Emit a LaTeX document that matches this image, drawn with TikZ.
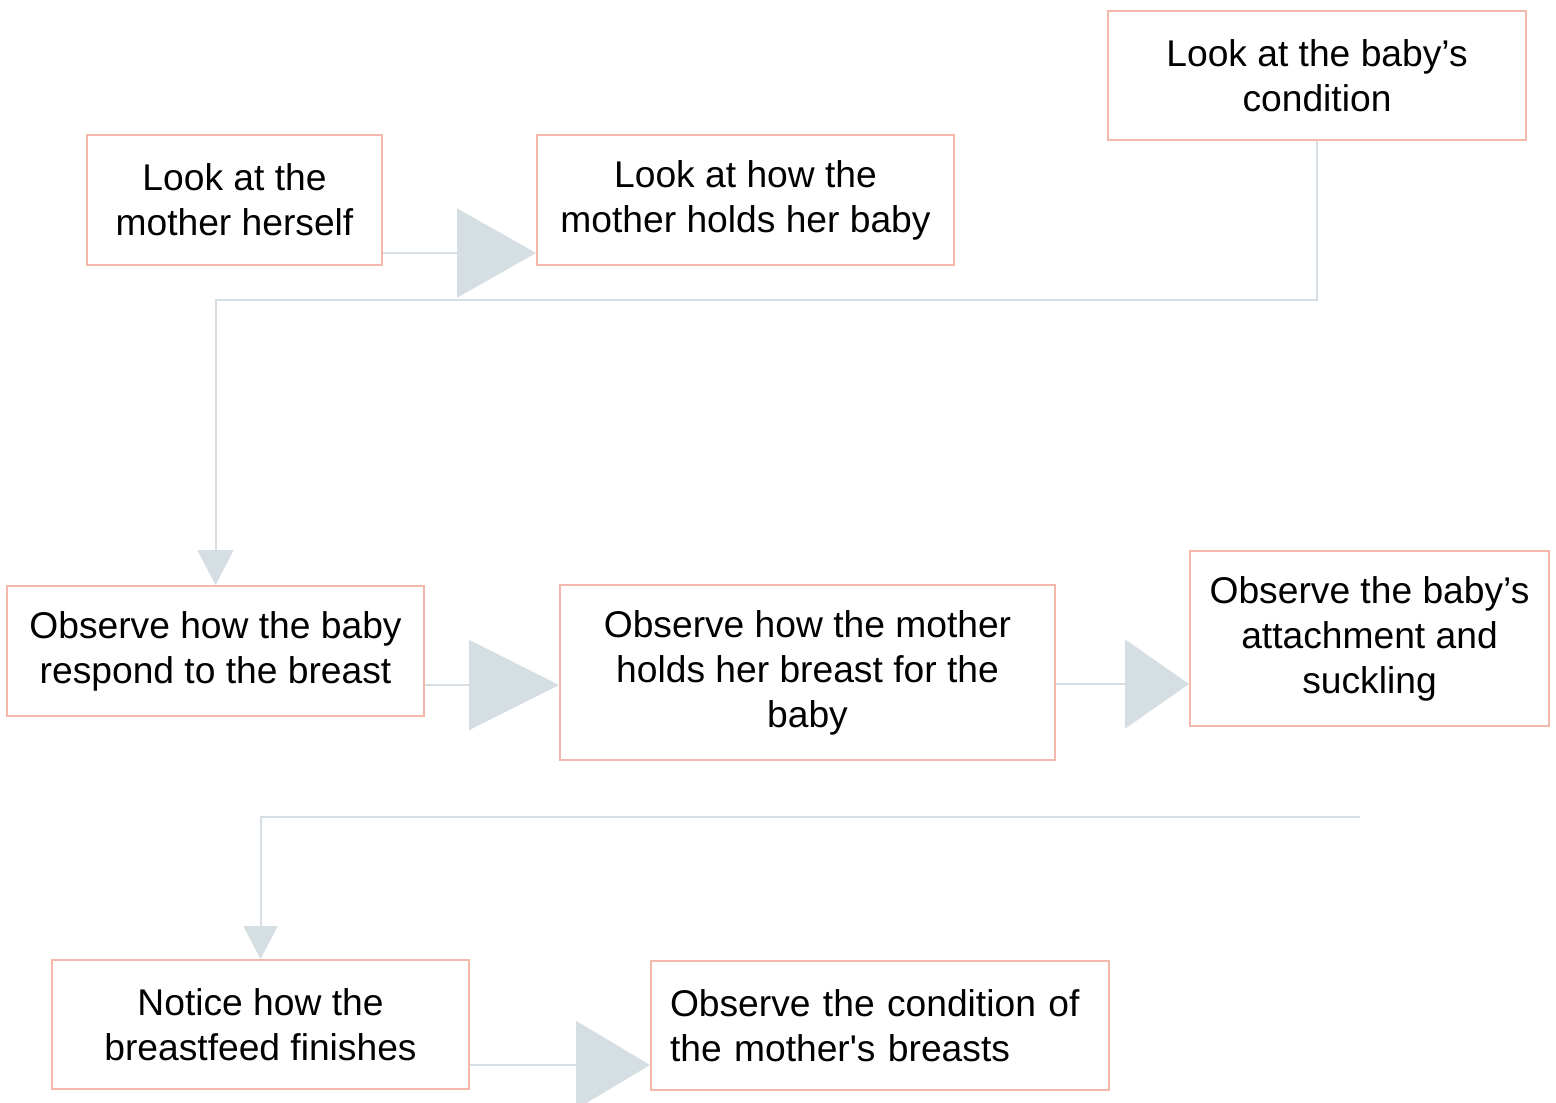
\documentclass[tikz,border=0pt]{standalone}
\usepackage{fontspec}
\newfontfamily\boxfont{Liberation Sans}
\usetikzlibrary{arrows.meta}
\definecolor{boxline}{HTML}{F4B8AA}
\definecolor{flowline}{HTML}{D5DEE2}

\begin{document}
\begin{tikzpicture}[x=0.5pt,y=-0.5pt]
        \useasboundingbox (0,0) rectangle (1556,1102);

        \begin{scope}[every node/.style={rectangle,draw=boxline,line width=1pt,align=center,inner sep=0pt,
            font={\boxfont\fontsize{18.6}{22.5}\selectfont}}]
            \node[minimum width=147.5pt,minimum height=65pt] (M) at (234.5,200) {Look at the\\mother herself};
            \node[minimum width=208.5pt,minimum height=65pt] (H) at (745.5,200) {Look at how the\\mother holds her baby};
            \node[minimum width=209pt,minimum height=64.5pt] (C) at (1317,75.5) {Look at the baby’s\\condition};
            \node[minimum width=208.5pt,minimum height=65pt] (R) at (215.5,651) {Observe how the baby\\respond to the breast};
            \node[minimum width=247.5pt,minimum height=87.5pt] (B) at (807.5,672.5) {Observe how the mother\\holds her breast for the\\baby};
            \node[minimum width=179.5pt,minimum height=87.5pt] (S) at (1369.5,638.5) {Observe the baby’s\\attachment and\\suckling};
            \node[minimum width=208.5pt,minimum height=64.5pt] (F) at (260.5,1024.5) {Notice how the\\breastfeed finishes};
            \node[text width=210pt,inner xsep=9.5pt,minimum height=64.5pt,align=left] (K) at (880,1025.5) {Observe the condition of\\the mother's breasts};
        \end{scope}

        \coordinate (MH) at ([yshift=-26.5pt]M.east);
        \coordinate (RB) at ([yshift=-17pt]R.east);
        \coordinate (BS) at ([yshift=-5.75pt]B.east);
        \coordinate (SF) at (1360,817);
        \coordinate (FK) at ([yshift=-20.25pt]F.east);

        \begin{scope}[line width=1pt, color=flowline]
            \draw [-{Triangle[length=39.5pt,width=44.5pt]}] (MH) -- (MH -| H.west);
            \draw [-{Triangle[length=17.5pt,width=18pt]}] (C.south) -- ++(0,159) -| (R.north);
            \draw [-{Triangle[length=45pt,width=45pt]}] (RB) -- (RB -| B.west);
            \draw [-{Triangle[length=32pt,width=44.5pt]}] (BS) -- (BS -| S.west);
            \draw [-{Triangle[length=16.5pt,width=17pt]}] (SF) -| (F.north);
            \draw [-{Triangle[length=37pt,width=44pt]}] (FK) -- (FK -| K.west);
        \end{scope}
    \end{tikzpicture}
\end{document}
